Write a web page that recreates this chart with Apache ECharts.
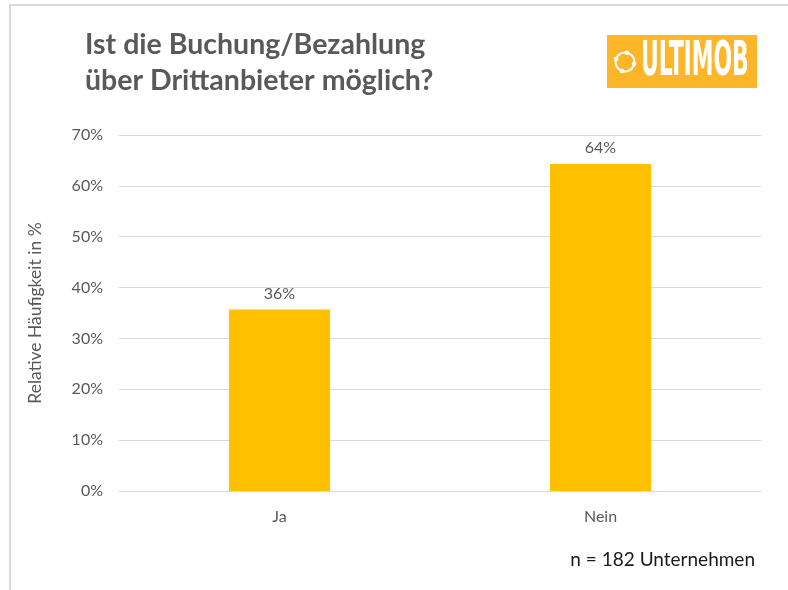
<!DOCTYPE html>
<html>
<head>
<meta charset="utf-8">
<script src="https://cdn.jsdelivr.net/npm/echarts@6/dist/echarts.min.js"></script>
<style>
  html, body { margin: 0; padding: 0; background: #fff; }
  #main { width: 788px; height: 590px; }
</style>
</head>
<body>
<div id="main"></div>
<script>
// Daten
const categories = ['Ja', 'Nein'];
const values = [35.7, 64.3];
const yTicks = [0, 10, 20, 30, 40, 50, 60, 70];

const FONT = 'Lato, "Open Sans", sans-serif';
let chartDom = document.getElementById('main');
let myChart = echarts.init(chartDom);

let option = {
  animation: false,
  backgroundColor: '#fff',
  title: {
    text: 'Ist die Buchung/Bezahlung\nüber Drittanbieter möglich?',
    left: 80,
    top: 22,
    textStyle: {
      fontFamily: FONT,
      fontSize: 28.5,
      fontWeight: 'bold',
      color: '#595959',
      lineHeight: 36
    }
  },
  grid: {
    left: 119,
    right: 27,
    top: 135,
    bottom: 99
  },
  xAxis: {
    type: 'category',
    data: categories,
    axisLine: { show: true, lineStyle: { color: '#d9d9d9' } },
    axisTick: { show: false },
    axisLabel: {
      margin: 18,
      fontFamily: FONT,
      fontSize: 16,
      color: '#595959'
    }
  },
  yAxis: {
    type: 'value',
    min: yTicks[0],
    max: yTicks[yTicks.length - 1],
    interval: 10,
    name: 'Relative Häufigkeit in %',
    nameLocation: 'middle',
    nameGap: 75,
    nameTextStyle: {
      fontFamily: FONT,
      fontSize: 17.5,
      color: '#595959'
    },
    axisLine: { show: false },
    axisTick: { show: false },
    splitLine: { lineStyle: { color: '#d9d9d9', width: 1 } },
    axisLabel: {
      margin: 16,
      fontFamily: FONT,
      fontSize: 16,
      color: '#595959',
      formatter: '{value}%'
    }
  },
  series: [
    {
      type: 'bar',
      data: values,
      barWidth: '31.5%',
      itemStyle: { color: '#FFC000' },
      label: {
        show: true,
        position: 'top',
        distance: 8,
        fontFamily: FONT,
        fontSize: 16,
        color: '#595959',
        formatter: function (p) {
          return Math.round(p.value) + '%';
        }
      }
    }
  ],
  graphic: [
    // Rahmen
    {
      type: 'polyline',
      shape: { points: [[10, 590], [10, 5], [788, 5]] },
      style: { stroke: '#d9d9d9', lineWidth: 2, fill: null },
      silent: true
    },
    // Logo
    {
      type: 'rect',
      shape: { x: 607, y: 35, width: 150, height: 53 },
      style: { fill: '#FDB62A' }
    },
    {
      type: 'circle',
      shape: { cx: 625, cy: 62, r: 9.5 },
      style: { stroke: '#fff', lineWidth: 2, fill: null }
    },
    {
      type: 'circle',
      shape: { cx: 627, cy: 52.7, r: 2.3 },
      style: { fill: '#fff' }
    },
    {
      type: 'circle',
      shape: { cx: 634, cy: 64, r: 2.3 },
      style: { fill: '#fff' }
    },
    {
      type: 'circle',
      shape: { cx: 622, cy: 71, r: 2.3 },
      style: { fill: '#fff' }
    },
    {
      type: 'circle',
      shape: { cx: 616, cy: 59, r: 2.3 },
      style: { fill: '#fff' }
    },
    {
      type: 'text',
      x: 641,
      y: 62,
      scaleX: 0.54,
      scaleY: 1.08,
      style: {
        text: 'ULTIMOB',
        fontFamily: '"Liberation Sans Narrow", "DejaVu Sans Condensed", sans-serif',
        fontWeight: 'bold',
        fontSize: 45,
        fill: '#fff',
        textAlign: 'left',
        textVerticalAlign: 'middle'
      }
    },
    // Stichprobe
    {
      type: 'text',
      right: 33,
      top: 550,
      style: {
        text: 'n = 182 Unternehmen',
        fontFamily: FONT,
        fontSize: 19,
        fill: '#1a1a1a'
      }
    }
  ]
};

myChart.setOption(option);
window.addEventListener('resize', () => {
  myChart.resize();
});
</script>
</body>
</html>
